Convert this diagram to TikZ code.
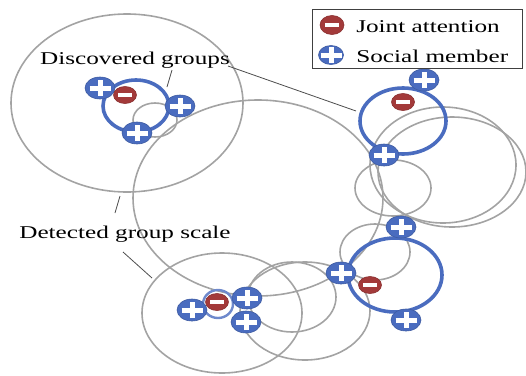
\documentclass[tikz,border=0pt]{standalone}
\usepackage{fontspec}
\setmainfont{Liberation Serif}
\usetikzlibrary{positioning}
\usetikzlibrary{shapes.geometric}

\definecolor{mblue}{HTML}{4A6CBF}
\definecolor{mred}{HTML}{A33A3A}
\definecolor{ringgrey}{HTML}{A3A3A3}

\begin{document}
\begin{tikzpicture}[
        x=1pt, y=-1pt,
        ring/.style = {draw=ringgrey, line width=1.6pt},
        grp/.style = {draw=mblue, line width=3.6pt},
        lbl/.style = {font=\fontsize{18}{20}\selectfont, xscale=1.4, inner sep=0pt},
        leader/.style = {draw=black!70, line width=0.8pt},
        member/.style = {ellipse, fill=mblue, draw=mblue!85!black, line width=0.6pt,
            minimum width=30pt, minimum height=22pt, inner sep=0pt,
            path picture={
                \draw[white, line width=5pt] ([xshift=-10.5pt]path picture bounding box.center) -- ([xshift=10.5pt]path picture bounding box.center);
                \draw[white, line width=5pt] ([yshift=-8pt]path picture bounding box.center) -- ([yshift=8pt]path picture bounding box.center);
            }},
        attn/.style = {ellipse, fill=mred, draw=mred!85!black, line width=0.6pt,
            minimum width=23pt, minimum height=17pt, inner sep=0pt,
            path picture={
                \draw[white, line width=4pt] ([xshift=-7pt]path picture bounding box.center) -- ([xshift=7pt]path picture bounding box.center);
            }}
    ]

        \useasboundingbox (0,0) rectangle (526,375);

        % detected group scales
        \draw[ring] (127,103) ellipse (116 and 89);
        \draw[ring] (258,198) ellipse (125 and 98);
        \draw[ring] (443,165) ellipse (73 and 58);
        \draw[ring] (452,172) ellipse (74 and 55);
        \draw[ring] (393,188) ellipse (38 and 28);
        \draw[ring] (375,252) ellipse (35 and 28);
        \draw[ring] (222,313) ellipse (80 and 60);
        \draw[ring] (292,297) ellipse (44 and 35);
        \draw[ring] (305,311) ellipse (65 and 49);
        \draw[ring] (155,120) ellipse (22 and 17);

        % discovered groups
        \draw[grp] (136,106) ellipse (33 and 26);
        \draw[grp] (403,121) ellipse (43 and 33);
        \draw[grp] (395,275) ellipse (47 and 37);
        \draw[grp, line width=2.4pt, draw=mblue!80] (218,304) ellipse (15 and 14);

        \node[member] (m1) at (100,88) {};
        \node[attn] (a1) at (125,95) {};
        \node[member] (m2) at (180,106) {};
        \node[member] (m3) at (137,133) {};

        \node[member] (m4) at (424,80) {};
        \node[attn] (a2) at (403,102) {};
        \node[member] (m5) at (384,155) {};

        \node[member] (m6) at (401,227) {};
        \node[member] (m7) at (341,273) {};
        \node[attn] (a3) at (370,285) {};
        \node[member] (m8) at (406,320) {};

        \node[member] (m9) at (192,310) {};
        \node[attn] (a4) at (217,302) {};
        \node[member] (m10) at (247,298) {};
        \node[member] (m11) at (246,322) {};

        % labels
        \node[lbl, anchor=base] (disc) at (135,64) {Discovered groups};
        \node[lbl, anchor=base] (det) at (125,238) {Detected group scale};

        \coordinate (d1) at (356,111);
        \coordinate (d2) at (167,87);
        \coordinate (s1) at (120,196);
        \coordinate (s2) at (152,278);

        \draw[leader] (228,66) -- (d1);
        \draw[leader] (172,70) -- (d2);
        \draw[leader] (115,213) -- (s1);
        \draw[leader] (123,252) -- (s2);

        % legend
        \node[draw=black!75, line width=0.8pt, minimum width=210pt, minimum height=59pt,
            inner sep=0pt] (legend) at (417,38.5) {};
        \node[attn, minimum width=24pt, minimum height=19pt] (la) at (332,25) {};
        \node[member, minimum width=25pt, minimum height=19pt] (lm) at (331,55) {};
        \node[lbl, anchor=base west] (lta) at (356,32) {Joint attention};
        \node[lbl, anchor=base west] (ltm) at (356,62) {Social member};

    \end{tikzpicture}
\end{document}
